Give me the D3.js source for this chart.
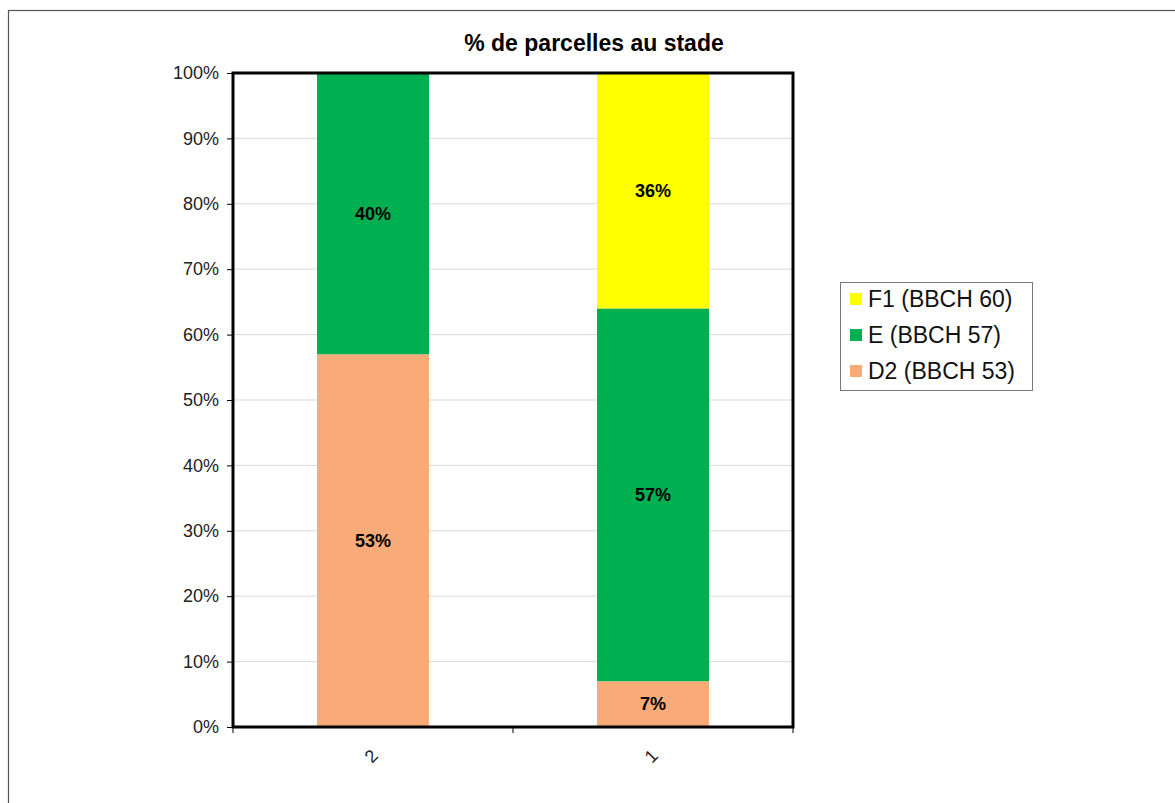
<html>
<head>
	<title>% de parcelles au stade</title>
	<style>
		body {
			margin:0;
			padding:0;
			background:#fff;
			font-family:"Liberation Sans", Arial, sans-serif;
		}
		.grid line { stroke:#d9d9d9; }
		.axis text { fill:#222; font-size:18px; }
		.axis line, .axis path { stroke:#000; }
	</style>
</head>
<body>
	<svg width="1175" height="803"></svg>

	<script src="https://d3js.org/d3.v7.min.js"></script>
	<script>
		// raw counts (% labels) per category, the chart is a 100% stack
		var categories = ["2", "1"];
		var seriesNames = ["D2 (BBCH 53)", "E (BBCH 57)", "F1 (BBCH 60)"];
		var d2 = [53, 7];
		var e = [40, 57];
		var f1 = [0, 36];
		var yTicks = [0, 10, 20, 30, 40, 50, 60, 70, 80, 90, 100];

		var colors = ["#f8aa79", "#00b050", "#ffff00"];

		var rows = categories.map(function(c, i) {
			return { cat: c, "D2 (BBCH 53)": d2[i], "E (BBCH 57)": e[i], "F1 (BBCH 60)": f1[i] };
		});

		var svg = d3.select("svg");

		// outer frame
		svg.append("rect")
			.attr("x", 8.5).attr("y", 10.5)
			.attr("width", 1200).attr("height", 900)
			.attr("fill", "none").attr("stroke", "#555").attr("stroke-width", 1.2);

		var plotLeft = 233, plotRight = 793, plotTop = 73, plotBottom = 727;

		var x = d3.scaleBand().domain(categories).range([plotLeft, plotRight]).paddingInner(0.6).paddingOuter(0.3);
		var xTicks = d3.scaleBand().domain(categories).range([plotLeft, plotRight]);
		var y = d3.scaleLinear().domain([0, 100]).range([plotBottom, plotTop]);

		svg.append("text")
			.attr("x", 594).attr("y", 51)
			.attr("text-anchor", "middle")
			.style("font-weight", "bold").style("font-size", "23px")
			.text("% de parcelles au stade");

		// grid
		svg.append("g").attr("class", "grid")
			.selectAll("line").data(yTicks.slice(1, -1)).enter()
			.append("line")
			.attr("x1", plotLeft).attr("x2", plotRight)
			.attr("y1", function(d) { return y(d); })
			.attr("y2", function(d) { return y(d); });

		// normalise each column to 100%
		var stack = d3.stack().keys(seriesNames).offset(d3.stackOffsetExpand);
		var stacked = stack(rows);

		stacked.forEach(function(layer, li) {
			var g = svg.append("g").attr("fill", colors[li]);
			g.selectAll("rect").data(layer).enter()
				.append("rect")
				.attr("x", function(d) { return x(d.data.cat); })
				.attr("width", x.bandwidth())
				.attr("y", function(d) { return y(d[1] * 100); })
				.attr("height", function(d) { return y(d[0] * 100) - y(d[1] * 100); });

			g.selectAll("text").data(layer.filter(function(d) { return d.data[layer.key] > 0; })).enter()
				.append("text")
				.attr("x", function(d) { return x(d.data.cat) + x.bandwidth() / 2; })
				.attr("y", function(d) { return y((d[0] + d[1]) * 50); })
				.attr("dy", "0.35em")
				.attr("text-anchor", "middle")
				.attr("fill", "#000")
				.style("font-weight", "bold").style("font-size", "18px")
				.text(function(d) { return d.data[layer.key] + "%"; });
		});

		// y axis
		var yAxis = d3.axisLeft(y).tickValues(yTicks).tickSize(6).tickPadding(8)
			.tickFormat(function(d) { return d + "%"; });
		svg.append("g").attr("class", "axis")
			.attr("transform", "translate(" + plotLeft + ",0)")
			.call(yAxis)
			.call(function(g) { g.select(".domain").remove(); });

		// x axis ticks at band edges
		var xg = svg.append("g").attr("class", "axis");
		xg.selectAll("line").data([plotLeft, plotLeft + xTicks.bandwidth(), plotRight]).enter()
			.append("line")
			.attr("x1", function(d) { return d; }).attr("x2", function(d) { return d; })
			.attr("y1", plotBottom).attr("y2", plotBottom + 6);
		xg.selectAll("text").data(categories).enter()
			.append("text")
			.attr("transform", function(d) {
				return "translate(" + (x(d) + x.bandwidth() / 2 - 2) + "," + (plotBottom + 29) + ") rotate(-45)";
			})
			.attr("text-anchor", "middle")
			.attr("dy", "0.35em")
			.text(function(d) { return d; });

		// plot frame
		svg.append("rect")
			.attr("x", plotLeft).attr("y", plotTop)
			.attr("width", plotRight - plotLeft).attr("height", plotBottom - plotTop)
			.attr("fill", "none").attr("stroke", "#000").attr("stroke-width", 3);

		// legend
		var lg = svg.append("g").attr("transform", "translate(840,282)");
		lg.append("rect")
			.attr("x", 0.5).attr("y", 0.5).attr("width", 192).attr("height", 108)
			.attr("fill", "#fff").attr("stroke", "#777");
		var legendOrder = [2, 1, 0];
		legendOrder.forEach(function(si, i) {
			var row = lg.append("g").attr("transform", "translate(10," + (17 + i * 36) + ")");
			row.append("rect").attr("x", 0).attr("y", -6).attr("width", 12).attr("height", 12).attr("fill", colors[si]);
			row.append("text").attr("x", 18).attr("dy", "0.36em")
				.style("font-size", "23px").attr("fill", "#111")
				.text(seriesNames[si]);
		});
	</script>
</body>
</html>
